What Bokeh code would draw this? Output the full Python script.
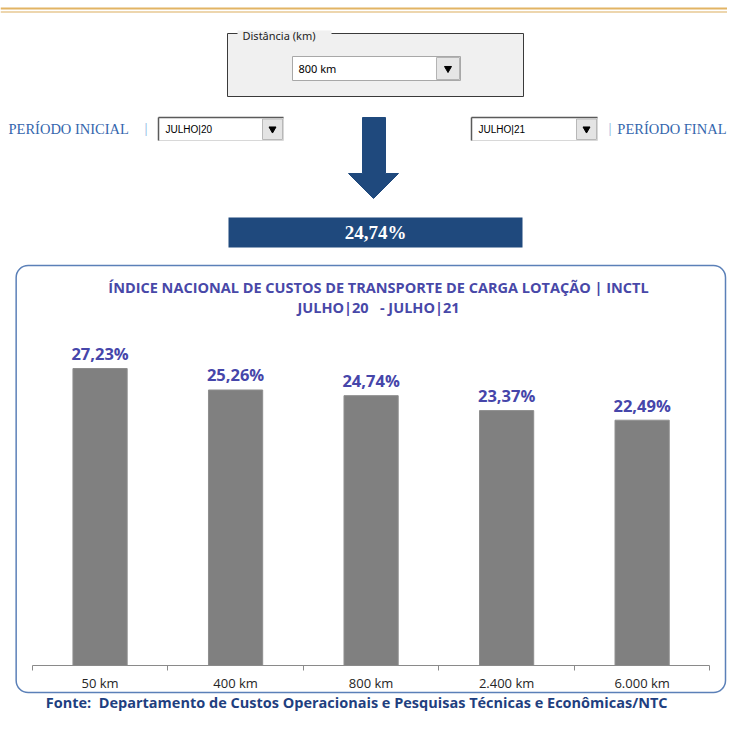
from bokeh.plotting import figure
from bokeh.models import Range1d, LinearAxis, FixedTicker, BoxAnnotation
from bokeh.core.properties import value
from bokeh.embed import file_html
from bokeh.resources import INLINE

# ---------------- data ----------------
categories = ["50 km", "400 km", "800 km", "2.400 km", "6.000 km"]
variation = [27.23, 25.26, 24.74, 23.37, 22.49]
selected_distance = "800 km"
period_start = "JULHO|20"
period_end = "JULHO|21"
group_label = "Distância (km)"
label_start = "PERÍODO INICIAL"
label_end = "PERÍODO FINAL"
chart_title = "ÍNDICE NACIONAL DE CUSTOS DE TRANSPORTE DE CARGA LOTAÇÃO | INCTL"
chart_subtitle = f"{period_start}\u00a0\u00a0 - {period_end}"
source_note = "Fonte:\u00a0 Departamento de Custos Operacionais e Pesquisas Técnicas e Econômicas/NTC"


def pct(v):
    return f"{v:.2f}".replace(".", ",") + "%"


centers = [i + 0.5 for i in range(len(categories))]
bounds_ticks = [float(i) for i in range(len(categories) + 1)]
bar_labels = [pct(v) for v in variation]
selected_value = variation[categories.index(selected_distance)]

# ---------------- layout (canvas pixels) ----------------
W, H = 727, 715
K = W / 743.0                     # horizontal squeeze for the chart panel
AX0, AX1 = 32.5 * K, 725 * K      # category axis extent
AXIS_Y = 665                      # pixel row of value 0
PX_PER_PCT = 10.907
n = len(categories)
ux = (AX1 - AX0) / n
x_range = Range1d(-AX0 / ux, (W - AX0) / ux)
y_range = Range1d(-(H - AXIS_Y) / PX_PER_PCT, AXIS_Y / PX_PER_PCT)

p = figure(width=W, height=H, output_backend="svg", toolbar_location=None,
           x_range=x_range, y_range=y_range,
           x_axis_type=None, y_axis_type=None, min_border=0,
           outline_line_color=None, background_fill_color="white",
           border_fill_color="white")
p.extra_x_ranges = {"px": Range1d(0, W)}
p.extra_y_ranges = {"py": Range1d(0, H)}


def Y(y):
    return H - y


PX = dict(x_range_name="px", y_range_name="py")
SANS = value("Noto Sans")
OPEN = value("Open Sans")
SERIF = value("Liberation Serif")
ARIAL = value("Liberation Sans")

# gold header lines
p.segment(x0=[0], x1=[W], y0=[Y(8)], y1=[Y(8)], line_color="#e2b464", line_width=2.2, **PX)
p.segment(x0=[0], x1=[W], y0=[Y(11.5)], y1=[Y(11.5)], line_color="#dcae5e", line_width=1.2, **PX)

# group box "Distância (km)"
p.quad(left=[227], right=[523], top=[Y(33)], bottom=[Y(96)], fill_color="#f0f0f0",
       line_color="#3a3a3a", line_width=1, **PX)
p.quad(left=[237], right=[331], top=[Y(30)], bottom=[Y(36)], fill_color="#f0f0f0",
       line_color=None, **PX)
p.text(x=[242], y=[Y(35)], text=[group_label], text_font=SANS, text_font_size="11px",
       text_color="#222222", text_baseline="middle", **PX)
p.quad(left=[292], right=[460], top=[Y(56)], bottom=[Y(80)], fill_color="white",
       line_color="#a8a8a8", line_width=1, **PX)
p.quad(left=[436], right=[459], top=[Y(57)], bottom=[Y(79)], fill_color="#e6e6e6",
       line_color="#b4b4b4", line_width=1, **PX)
p.scatter(x=[447.5], y=[Y(68)], marker="inverted_triangle", size=7, color="black", **PX)
p.text(x=[298], y=[Y(68)], text=[selected_distance], text_font=SANS, text_font_size="11px",
       text_color="black", text_baseline="middle", **PX)

# period selectors
p.text(x=[8], y=[Y(128)], text=[label_start], text_font=SERIF, text_font_size="14.5px",
       text_color="#3466ad", text_baseline="middle", **PX)
p.text(x=[144], y=[Y(127)], text=["|"], text_font=SERIF, text_font_size="15px",
       text_color="#86aee0", text_baseline="middle", **PX)
p.text(x=[726], y=[Y(128)], text=[label_end], text_font=SERIF, text_font_size="14.5px",
       text_color="#3466ad", text_baseline="middle", text_align="right", **PX)
p.text(x=[608], y=[Y(127)], text=["|"], text_font=SERIF, text_font_size="15px",
       text_color="#86aee0", text_baseline="middle", **PX)

for (l, r, txt) in [(158, 283, period_start), (471, 597, period_end)]:
    p.quad(left=[l], right=[r], top=[Y(117)], bottom=[Y(140)], fill_color="white",
           line_color="#d8d8d8", line_width=1, **PX)
    p.segment(x0=[l, l], x1=[r, l], y0=[Y(117), Y(117)], y1=[Y(117), Y(140)],
              line_color="#5a5a5a", line_width=1.5, **PX)
    p.quad(left=[r - 21], right=[r - 1], top=[Y(118.5)], bottom=[Y(139)], fill_color="#e4e4e4",
           line_color="#b8b8b8", line_width=1, **PX)
    p.scatter(x=[r - 11], y=[Y(128.5)], marker="inverted_triangle", size=7, color="black", **PX)
    p.text(x=[l + 7], y=[Y(129)], text=[txt], text_font=ARIAL, text_font_size="10px",
           text_color="black", text_baseline="middle", **PX)

# arrow
p.patch(x=[362, 385, 385, 398, 373, 348, 362],
        y=[Y(117), Y(117), Y(173), Y(173), Y(198), Y(173), Y(173)],
        fill_color="#1f497d", line_color="#1f497d", **PX)

# value box
p.quad(left=[228], right=[522], top=[Y(217)], bottom=[Y(247)], fill_color="#1f497d",
       line_color=None, **PX)
p.text(x=[375], y=[Y(232)], text=[pct(selected_value)], text_font=SERIF,
       text_font_size="19px", text_font_style="bold", text_color="white",
       text_align="center", text_baseline="middle", **PX)

# rounded chart box
box = BoxAnnotation(left=16 * K, right=725, top=Y(265), bottom=Y(692), border_radius=12,
                    fill_alpha=0, line_color="#5b80b8", line_alpha=1, line_width=1.5, **PX)
p.add_layout(box)

# chart title
TX = 378
p.text(x=[TX], y=[Y(287)], text=[chart_title], text_font=OPEN, text_font_size="14.5px",
       text_font_style="bold", text_color="#4848a8", text_align="center",
       text_baseline="middle", **PX)
p.text(x=[TX], y=[Y(307)], text=[chart_subtitle], text_font=OPEN, text_font_size="14.5px",
       text_font_style="bold", text_color="#4848a8", text_align="center",
       text_baseline="middle", **PX)

# bars
p.vbar(x=centers, top=variation, bottom=0, width=0.4, fill_color="#808080",
       line_color="#8e8e8e", line_width=1)
p.text(x=centers, y=variation, text=bar_labels, y_offset=-15, text_font=OPEN,
       text_font_size="16.5px", text_font_style="bold", text_color="#4646aa",
       text_align="center", text_baseline="middle")

# category axis drawn at value 0
xaxis = LinearAxis(fixed_location=0, bounds=(0, n),
                   ticker=FixedTicker(ticks=centers, minor_ticks=bounds_ticks),
                   major_label_overrides={c: cat for c, cat in zip(centers, categories)},
                   major_tick_in=0, major_tick_out=0, minor_tick_in=0, minor_tick_out=5,
                   axis_line_color="#8a8a8a", minor_tick_line_color="#8a8a8a",
                   major_label_text_font="Open Sans", major_label_text_font_size="13px",
                   major_label_text_color="#262626", major_label_standoff=3)
p.add_layout(xaxis, "below")

# source note
p.text(x=[364 * K], y=[Y(702)], text=[source_note], text_font=OPEN, text_font_size="14.5px",
       text_font_style="bold", text_color="#1f3f80", text_align="center",
       text_baseline="middle", **PX)

open("out.html", "w").write(file_html(p, INLINE))
